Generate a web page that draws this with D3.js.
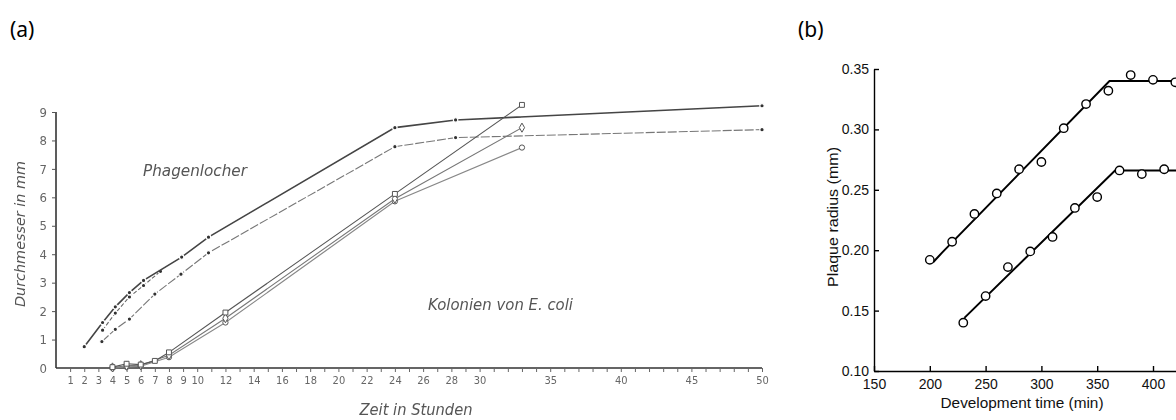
<!DOCTYPE html>
<html>
<head>
<meta charset="utf-8">
<script src="https://cdn.jsdelivr.net/npm/d3@7"></script>
<style>
  body { margin: 0; background: #fff; }
  svg { display: block; }
  .scan text { fill: #666; font-family: "Liberation Sans Narrow", "DejaVu Sans Condensed", "Liberation Sans", sans-serif; }
  .scan .lbl { font-style: italic; fill: #555; }
  .fig text { fill: #111; font-family: "Liberation Sans", Arial, sans-serif; }
  .tag { font-family: "Noto Sans", "Open Sans", sans-serif; font-size: 21px; fill: #000; }
</style>
</head>
<body>
<svg id="chart" width="1176" height="420"></svg>
<script>
// ---- panel (a): diameter in mm over hours ----
var hourTicks = [1,2,3,4,5,6,7,8,9,10,12,14,16,18,20,22,24,26,28,30,35,40,45,50];
var mmTicks = [0,1,2,3,4,5,6,7,8,9];

var phageA = [[2,0.75],[3.3,1.6],[4.2,2.15],[5.2,2.65],[6.2,3.08],[8.9,3.9],[10.8,4.6],[24,8.45],[28.3,8.72],[50,9.22]];
var phageB = [[3.3,1.33],[4.2,1.93],[5.2,2.5],[6.2,2.9],[7.4,3.4]];
var phageC = [[3.25,0.93],[4.2,1.36],[5.2,1.72],[7.0,2.6],[8.85,3.3],[10.8,4.05],[24,7.78],[28.3,8.1],[50,8.38]];

var colonySq = [[4,0.03],[5,0.15],[6,0.12],[7,0.25],[8,0.55],[12,1.95],[24,6.12],[33,9.25]];
var colonyDi = [[4,0.02],[5,0.08],[6,0.1],[8,0.45],[12,1.75],[24,5.95],[33,8.45]];
var colonyCi = [[4,0.0],[5,0.04],[6,0.06],[8,0.38],[12,1.6],[24,5.86],[33,7.75]];

// ---- panel (b): plaque radius over development time ----
var timeTicks = [150,200,250,300,350,400];
var radiusTicks = [0.10,0.15,0.20,0.25,0.30,0.35];

var upperTime = [200,220,240,260,280,300,320,340,360,380,400,420];
var upperRadius = [0.192,0.207,0.230,0.247,0.267,0.273,0.301,0.321,0.332,0.345,0.341,0.339];
var lowerTime = [230,250,270,290,310,330,350,370,390,410];
var lowerRadius = [0.140,0.162,0.186,0.199,0.211,0.235,0.244,0.266,0.263,0.267];
var upperFit = [[203,0.190],[211,0.198],[361,0.340],[470,0.340]];
var lowerFit = [[231,0.144],[366,0.266],[470,0.266]];

var svg = d3.select("#chart");
svg.append("rect").attr("width", 1176).attr("height", 420).attr("fill", "#fff");

svg.append("text").attr("class", "tag").attr("x", 10).attr("y", 37).text("(a)");
svg.append("text").attr("class", "tag").attr("x", 798).attr("y", 37).text("(b)");

// soft blur to look like the scanned figure
var defs = svg.append("defs");
defs.append("filter").attr("id", "soft")
  .append("feGaussianBlur").attr("stdDeviation", 0.45);

var a = svg.append("g").attr("class", "scan").attr("filter", "url(#soft)");

var x = d3.scaleLinear().domain([0, 50]).range([56, 762]);
var y = d3.scaleLinear().domain([0, 9]).range([368, 112]);

var xAxis = a.append("g")
  .attr("transform", "translate(0," + y(0) + ")")
  .call(d3.axisBottom(x).tickValues(d3.range(1, 51)).tickSize(4)
        .tickFormat(function(d) { return hourTicks.indexOf(d) >= 0 ? d : ""; }));
xAxis.select(".domain").attr("stroke", "#333").attr("stroke-width", 1.6).attr("d", "M" + x(0) + ",0H" + x(50));
xAxis.selectAll(".tick line").attr("stroke", "#666");
xAxis.selectAll("text").attr("font-size", 11).attr("dy", "0.85em");

var yAxis = a.append("g")
  .attr("transform", "translate(" + x(0) + ",0)")
  .call(d3.axisLeft(y).tickValues(mmTicks).tickSize(4));
yAxis.select(".domain").attr("stroke", "#333").attr("stroke-width", 1.6).attr("d", "M0," + y(9) + "V" + y(0));
yAxis.selectAll(".tick line").attr("stroke", "#555");
yAxis.selectAll("text").attr("font-size", 13).attr("x", -9);
yAxis.selectAll(".tick").filter(function(d) { return d === 0; }).select("line").remove();

a.append("text").attr("class", "lbl")
  .attr("transform", "translate(25,234) rotate(-90)")
  .attr("text-anchor", "middle").attr("font-size", 14)
  .attr("textLength", 146).attr("lengthAdjust", "spacingAndGlyphs")
  .text("Durchmesser in mm");
a.append("text").attr("class", "lbl")
  .attr("x", 416).attr("y", 415).attr("text-anchor", "middle").attr("font-size", 16)
  .attr("textLength", 113).attr("lengthAdjust", "spacingAndGlyphs")
  .text("Zeit in Stunden");
a.append("text").attr("class", "lbl")
  .attr("x", 143).attr("y", 176).attr("font-size", 15)
  .attr("textLength", 104).attr("lengthAdjust", "spacingAndGlyphs")
  .text("Phagenlocher");
a.append("text").attr("class", "lbl")
  .attr("x", 428).attr("y", 310).attr("font-size", 15)
  .attr("textLength", 145).attr("lengthAdjust", "spacingAndGlyphs")
  .text("Kolonien von E. coli");

var lineA = d3.line().x(function(d) { return x(d[0]); }).y(function(d) { return y(d[1]); });

var phage = [
  { data: phageC, color: "#777", width: 1.1, dash: "9,2" },
  { data: phageB, color: "#666", width: 1.1, dash: "4,2" },
  { data: phageA, color: "#444", width: 1.6, dash: null }
];
phage.forEach(function(s) {
  a.append("path").datum(s.data)
    .attr("fill", "none").attr("stroke", s.color)
    .attr("stroke-width", s.width).attr("stroke-dasharray", s.dash)
    .attr("d", lineA);
  a.selectAll(null).data(s.data).enter().append("circle")
    .attr("cx", function(d) { return x(d[0]); })
    .attr("cy", function(d) { return y(d[1]); })
    .attr("r", 2.2).attr("fill", "#333")
    .attr("stroke", "#fff").attr("stroke-width", 1.2);
});

var colonies = [
  { data: colonyCi, shape: d3.symbolCircle, size: 22, color: "#888" },
  { data: colonyDi, shape: d3.symbolDiamond, size: 24, color: "#777" },
  { data: colonySq, shape: d3.symbolSquare, size: 24, color: "#555" }
];
colonies.forEach(function(s) {
  a.append("path").datum(s.data)
    .attr("fill", "none").attr("stroke", s.color).attr("stroke-width", 1.1)
    .attr("d", lineA);
  a.selectAll(null).data(s.data).enter().append("path")
    .attr("transform", function(d) { return "translate(" + x(d[0]) + "," + y(d[1]) + ")"; })
    .attr("d", d3.symbol().type(s.shape).size(s.size))
    .attr("fill", "#fff").attr("stroke", "#555").attr("stroke-width", 1);
});

// ---- panel (b) ----
var b = svg.append("g").attr("class", "fig");

var xb = d3.scaleLinear().domain([150, 450]).range([874, 1208.8]);
var yb = d3.scaleLinear().domain([0.10, 0.35]).range([371, 69]);

var xbAxis = b.append("g")
  .attr("transform", "translate(0," + yb(0.10) + ")")
  .call(d3.axisBottom(xb).tickValues(timeTicks).tickSize(-5).tickSizeOuter(0).tickPadding(6));
xbAxis.select(".domain").attr("stroke", "#000").attr("stroke-width", 1.4);
xbAxis.selectAll(".tick line").attr("stroke", "#000").attr("stroke-width", 1.4);
xbAxis.selectAll("text").attr("font-size", 14).attr("dy", "0.85em");

var ybAxis = b.append("g")
  .attr("transform", "translate(" + xb(150) + ",0)")
  .call(d3.axisLeft(yb).tickValues(radiusTicks).tickSize(-5).tickSizeOuter(0).tickPadding(5)
        .tickFormat(d3.format(".2f")));
ybAxis.select(".domain").attr("stroke", "#000").attr("stroke-width", 1.4);
ybAxis.selectAll(".tick line").attr("stroke", "#000").attr("stroke-width", 1.4);
ybAxis.selectAll("text").attr("font-size", 14);

b.append("text")
  .attr("x", 1022).attr("y", 408).attr("text-anchor", "middle").attr("font-size", 14)
  .attr("textLength", 163).attr("lengthAdjust", "spacingAndGlyphs")
  .text("Development time (min)");
b.append("text")
  .attr("transform", "translate(838,217) rotate(-90)")
  .attr("text-anchor", "middle").attr("font-size", 14)
  .attr("textLength", 140).attr("lengthAdjust", "spacingAndGlyphs")
  .text("Plaque radius (mm)");

var lineB = d3.line().x(function(d) { return xb(d[0]); }).y(function(d) { return yb(d[1]); });
[upperFit, lowerFit].forEach(function(f) {
  b.append("path").datum(f)
    .attr("fill", "none").attr("stroke", "#000").attr("stroke-width", 2)
    .attr("d", lineB);
});

[[upperTime, upperRadius], [lowerTime, lowerRadius]].forEach(function(s) {
  b.selectAll(null).data(s[0]).enter().append("circle")
    .attr("cx", function(t) { return xb(t); })
    .attr("cy", function(t, i) { return yb(s[1][i]); })
    .attr("r", 4.2).attr("fill", "#fff").attr("stroke", "#000").attr("stroke-width", 1.4);
});
</script>
</body>
</html>
